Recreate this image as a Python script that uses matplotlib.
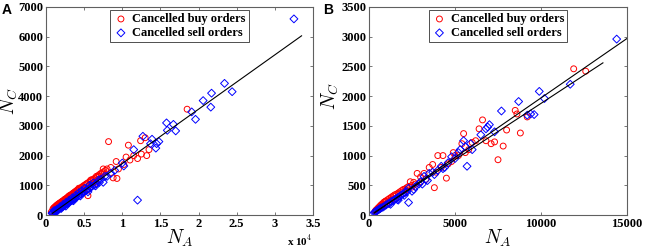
import numpy as np
import matplotlib.pyplot as plt

# ------------------------------------------------------------
# Values
# ------------------------------------------------------------

# Panel A: cancelled buy orders (red circles)
buy_a_x = [900, 1000, 1100, 1200, 1300, 1400, 1500, 1600, 1700, 1800, 1900, 2000,
           2100, 2200, 2300, 2400, 2500, 2600, 2700, 2800, 2900, 3000, 3100, 3200,
           3300, 3400, 3500, 3600, 3700, 3800, 3900, 4000, 4200, 4400, 4600, 4800,
           5000, 5200, 5400, 5600, 5800, 6000, 6200, 6400, 6600, 6800, 7000, 7200,
           7400, 7600, 7800, 8000, 1500, 2500, 3500, 4500, 5000, 6000, 6500, 5500,
           8200, 10800, 12400, 13000, 18500, 11000, 12000, 13500, 9200, 9500, 10500,
           8800, 9300, 7500, 7000, 12500, 13200, 10200, 11500, 8500, 6200, 4300,
           2200, 3000, 1200, 700, 1250, 1650, 2050, 2450, 2850, 3250, 3650, 4100,
           4700, 5300, 5900, 6700, 1800, 2700, 3700, 4900, 5700]
buy_a_y = [200, 230, 260, 250, 300, 330, 330, 370, 380, 400, 420, 430,
           460, 470, 480, 520, 520, 550, 560, 590, 600, 640, 650, 660,
           680, 700, 720, 740, 760, 770, 800, 820, 850, 880, 920, 960,
           1000, 1020, 1060, 1100, 1150, 1180, 1200, 1240, 1300, 1320, 1360, 1400,
           1420, 1460, 1500, 1550, 200, 430, 600, 780, 850, 1050, 1100, 650,
           2470, 2350, 2500, 2600, 3560, 1850, 1900, 2200, 1800, 1550, 1950,
           1250, 1230, 1550, 1300, 2050, 2000, 1700, 2000, 1600, 1100, 900,
           330, 520, 150, 100, 280, 350, 420, 500, 580, 660, 720, 830,
           930, 1050, 1180, 1280, 300, 480, 680, 900, 1000]

# Panel A: cancelled sell orders (blue diamonds)
sell_a_x = [800, 900, 1000, 1100, 1200, 1300, 1400, 1500, 1600, 1700, 1800, 1900,
            2000, 2100, 2200, 2300, 2400, 2500, 2600, 2700, 2800, 2900, 3000, 3100,
            3200, 3300, 3400, 3500, 3600, 3700, 3800, 4000, 4200, 4400, 4600, 4800,
            5000, 5200, 5400, 5600, 5800, 6000, 6300, 6600, 7000, 7500, 8000, 8500,
            10000, 10200, 11500, 12000, 12700, 13700, 13900, 14400, 14500, 14800,
            15800, 15900, 16700, 17000, 19100, 19600, 20600, 21600, 21700, 23400,
            24400, 32500, 2600, 3600, 4500, 5500, 6500, 1300, 2000, 7200, 9000,
            1050, 1450, 1850, 2250, 2650, 3050, 3450, 3900, 4300, 4700, 5100, 5700,
            6200, 6900, 7700]
sell_a_y = [60, 80, 90, 110, 120, 140, 160, 170, 190, 210, 220, 240,
            250, 280, 290, 300, 330, 340, 360, 380, 390, 410, 430, 440,
            460, 480, 490, 520, 530, 550, 560, 600, 640, 680, 710, 750,
            780, 820, 850, 880, 920, 960, 1000, 1050, 1100, 1100, 1300, 1400,
            1750, 1650, 2200, 500, 2650, 2400, 2550, 2250, 2400, 2470,
            3100, 2850, 3050, 2830, 3470, 3220, 3850, 3630, 4100, 4430,
            4150, 6600, 300, 480, 640, 780, 980, 90, 220, 1200, 1500,
            150, 200, 280, 360, 430, 500, 580, 660, 750, 820, 900, 1000,
            1080, 1180, 1300]

# Panel A fitted line end points
fit_a_x = [800, 33500]
fit_a_y = [50, 6030]

# Panel B: cancelled buy orders (red circles)
buy_b_x = [350, 400, 450, 500, 550, 600, 650, 700, 750, 800, 850, 900, 950, 1000,
           1100, 1200, 1300, 1400, 1500, 1600, 1700, 1800, 1900, 2000, 2100, 2200,
           2300, 2400, 2500, 2600, 2800, 3000, 3200, 3500, 3700, 3800, 4000, 4300,
           4500, 4800, 4900, 5000, 5400, 5500, 5800, 6000, 6200, 6400, 6600, 6800,
           7100, 7300, 7500, 7800, 8000, 8500, 8600, 8800, 9200, 11900, 12600,
           1000, 1500, 2000, 2500, 3000, 600, 800, 1200, 1350, 1750, 2150, 2700,
           3300, 3900, 4200, 4600, 5200, 5600]
buy_b_y = [60, 80, 90, 110, 120, 140, 150, 170, 180, 190, 210, 220, 230, 240,
           260, 280, 300, 320, 340, 350, 370, 390, 410, 430, 440, 460,
           480, 560, 500, 550, 700, 640, 700, 800, 850, 460, 1000, 1000,
           620, 900, 1050, 1000, 1200, 1370, 1100, 1220, 1250, 1450, 1600, 1250,
           1200, 1230, 930, 1160, 1430, 1760, 1700, 1380, 1650, 2460, 2420,
           180, 270, 360, 470, 560, 100, 150, 230, 270, 350, 420, 520,
           600, 720, 800, 860, 1000, 1050]

# Panel B: cancelled sell orders (blue diamonds)
sell_b_x = [300, 350, 400, 450, 500, 550, 600, 650, 700, 800, 900, 1000, 1100,
            1200, 1300, 1400, 1500, 1600, 1700, 1800, 1900, 2000, 2100, 2200, 2300,
            2500, 2700, 2900, 3200, 3500, 3700, 4000, 4200, 4400, 4600, 5000, 5300,
            5500, 5600, 5700, 5900, 6000, 6500, 6800, 6900, 7000, 7300, 7700, 8700,
            9200, 9400, 9600, 9900, 10200, 11700, 14400, 1700, 2300, 3000, 3300,
            4800, 5200, 1250, 1650, 2050, 2600, 3100, 3400, 3800, 4300]
sell_b_y = [40, 50, 60, 70, 80, 90, 100, 110, 120, 130, 150, 170, 190,
            200, 230, 240, 260, 280, 250, 320, 340, 360, 380, 390, 210,
            400, 480, 520, 650, 700, 720, 750, 820, 800, 880, 950, 1100,
            1250, 1150, 820, 1200, 1100, 1350, 1450, 1480, 1520, 1400, 1750, 1910,
            1680, 1700, 1690, 2080, 1960, 2200, 2960, 300, 450, 560, 600,
            980, 1050, 180, 260, 330, 430, 520, 580, 680, 780]

# Panel B fitted lines end points
fit_b1_x = [300, 15000]
fit_b1_y = [30, 2970]
fit_b2_x = [300, 13600]
fit_b2_y = [40, 2560]

# ------------------------------------------------------------
# Figure
# ------------------------------------------------------------
plt.rcParams['mathtext.fontset'] = 'cm'
tick_font = {'family': 'Liberation Serif', 'weight': 'bold', 'size': 9}
axis_grey = '#606060'

fig = plt.figure(figsize=(6.45, 2.49), dpi=100)
ax_a = fig.add_axes([46 / 645, 34 / 249, 267 / 645, 208 / 249])
ax_b = fig.add_axes([369 / 645, 34 / 249, 258 / 645, 208 / 249])


def draw_panel(ax, bx, by, sx, sy, fits, xlim, ylim, xticks, yticks, xlabels, ylab_xy):
    ax.scatter(bx, by, s=18, facecolors='none', edgecolors='red', linewidths=0.7,
               label='Cancelled buy orders', zorder=2)
    ax.scatter(sx, sy, s=16, marker='D', facecolors='none', edgecolors='blue',
               linewidths=0.7, label='Cancelled sell orders', zorder=3)
    for fx, fy in fits:
        ax.plot(fx, fy, color='black', lw=0.8, zorder=4)
    ax.set_xlim(xlim)
    ax.set_ylim(ylim)
    ax.set_xticks(xticks)
    ax.set_xticklabels(xlabels, fontdict=tick_font)
    ax.set_yticks(yticks)
    ax.set_yticklabels([str(v) for v in yticks], fontdict=tick_font)
    ax.tick_params(direction='in', top=True, right=True, length=2.5, width=0.6, pad=2,
                   color=axis_grey)
    for sp in ax.spines.values():
        sp.set_linewidth(0.8)
        sp.set_color(axis_grey)
    ax.set_xlabel('$N_A$', fontsize=14)
    ax.xaxis.set_label_coords(0.5, -0.06)
    ax.set_ylabel('$N_C$', fontsize=14)
    ax.yaxis.set_label_coords(*ylab_xy)
    leg = ax.legend(loc='upper center', bbox_to_anchor=(0.5, 1.0), fancybox=False,
                    edgecolor='black', handletextpad=0.3, borderpad=0.25,
                    labelspacing=0.15, handlelength=1.2, borderaxespad=0.25,
                    prop={'family': 'Liberation Serif', 'weight': 'bold', 'size': 9})
    leg.get_frame().set_linewidth(0.6)


a_xticks = [0, 5000, 10000, 15000, 20000, 25000, 30000, 35000]
a_xlabels = ['0', '0.5', '1', '1.5', '2', '2.5', '3', '3.5']
draw_panel(ax_a, buy_a_x, buy_a_y, sell_a_x, sell_a_y, [(fit_a_x, fit_a_y)],
           (0, 35000), (0, 7000), a_xticks, list(range(0, 7001, 1000)), a_xlabels,
           (-0.097, 0.55))
ax_a.text(1.0, -0.125, r'x 10$^{\mathbf{4}}$', transform=ax_a.transAxes, ha='right',
          va='center', family='Liberation Serif', weight='bold', size=8)

b_xticks = [0, 5000, 10000, 15000]
draw_panel(ax_b, buy_b_x, buy_b_y, sell_b_x, sell_b_y,
           [(fit_b1_x, fit_b1_y), (fit_b2_x, fit_b2_y)],
           (0, 15000), (0, 3500), b_xticks, list(range(0, 3501, 500)),
           [str(v) for v in b_xticks], (-0.11, 0.57))

fig.text(2 / 645, 1 - 3 / 249, 'A', family='Liberation Sans', weight='bold', size=10, va='top')
fig.text(323 / 645, 1 - 3 / 249, 'B', family='Liberation Sans', weight='bold', size=10, va='top')

fig.savefig('out.png', dpi=100)
